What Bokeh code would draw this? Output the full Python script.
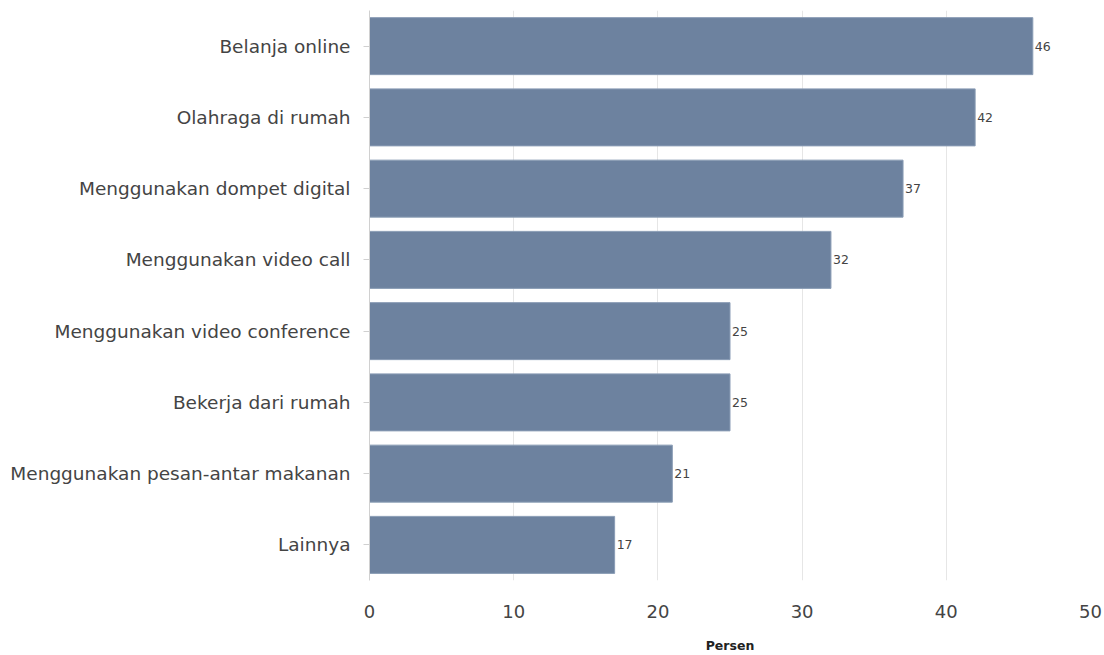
from bokeh.plotting import figure
from bokeh.models import ColumnDataSource, FactorRange, Range1d, FixedTicker
from bokeh.core.properties import value
from bokeh.embed import file_html
from bokeh.resources import INLINE

categories = ["Belanja online", "Olahraga di rumah", "Menggunakan dompet digital",
              "Menggunakan video call", "Menggunakan video conference",
              "Bekerja dari rumah", "Menggunakan pesan-antar makanan", "Lainnya"]
values = [46, 42, 37, 32, 25, 25, 21, 17]
x_ticks = [0, 10, 20, 30, 40, 50]

FONT = "DejaVu Sans"

src = ColumnDataSource(dict(cat=categories, val=values, lab=[str(v) for v in values]))

p = figure(width=1104, height=655, output_backend="svg", toolbar_location=None,
           y_range=FactorRange(factors=list(reversed(categories)), range_padding=0),
           x_range=Range1d(0, 50),
           min_border_left=369, min_border_right=14, min_border_top=10, min_border_bottom=75)
p.outline_line_color = None
p.background_fill_color = "white"
p.border_fill_color = "white"

p.hbar(y="cat", right="val", left=0, height=0.8, source=src,
       fill_color="#6d829f", line_color="#8a9cb5", line_width=1)
p.text(x="val", y="cat", text="lab", source=src, x_offset=2,
       text_align="left", text_baseline="middle", text_font=value(FONT),
       text_font_size="12.5px", text_color="#444444")

p.xgrid.ticker = FixedTicker(ticks=x_ticks)
p.xgrid.grid_line_color = "#e6e6e6"
p.ygrid.grid_line_color = None

xa = p.xaxis[0]
xa.ticker = FixedTicker(ticks=x_ticks)
xa.axis_line_color = None
xa.major_tick_line_color = None
xa.minor_tick_line_color = None
xa.major_label_text_font = FONT
xa.major_label_text_font_size = "18px"
xa.major_label_text_color = "#444444"
xa.major_label_standoff = 18
xa.axis_label = "Persen"
xa.axis_label_text_font = FONT
xa.axis_label_text_font_style = "bold"
xa.axis_label_text_font_size = "12.5px"
xa.axis_label_text_color = "#222222"
xa.axis_label_standoff = 17

ya = p.yaxis[0]
ya.axis_line_color = "#d0d0d0"
ya.major_tick_line_color = "#d0d0d0"
ya.major_tick_out = 6
ya.major_tick_in = 0
ya.major_label_text_font = FONT
ya.major_label_text_font_size = "18.5px"
ya.major_label_text_color = "#444444"
ya.major_label_standoff = 13

open("out.html", "w").write(file_html(p, INLINE))
